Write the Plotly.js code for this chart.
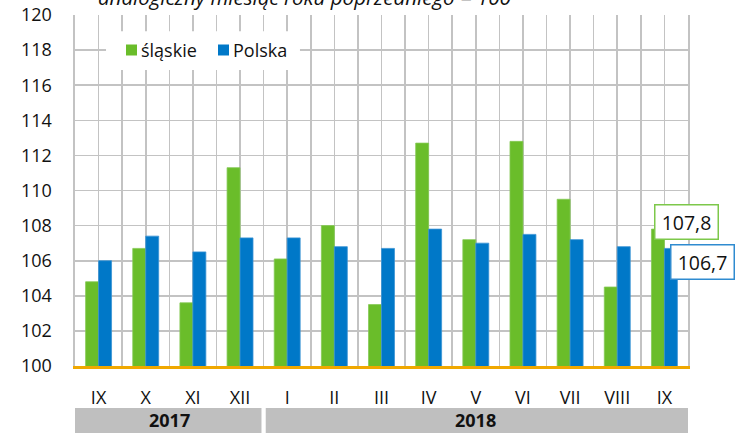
<!DOCTYPE html>
<html>
<head>
<meta charset="utf-8">
<script src="https://cdn.plot.ly/plotly-3.0.1.min.js"></script>
<style>
html,body{margin:0;padding:0;background:#fff;}
#chart{width:744px;height:433px;}
</style>
</head>
<body>
<div id="chart"></div>
<script>
const months = ['IX','X','XI','XII','I','II','III','IV','V','VI','VII','VIII','IX'];
const slaskie = [104.8,106.7,103.6,111.3,106.1,108.0,103.5,112.7,107.2,112.8,109.5,104.5,107.8];
const polska  = [106.0,107.4,106.5,107.3,107.3,106.8,106.7,107.8,107.0,107.5,107.2,106.8,106.7];
const years = ['2017','2018'];
const monthsPerYear = [4, 9];
const yTicks = [100,102,104,106,108,110,112,114,116,118,120];
const seriesNames = ['śląskie','Polska'];
const titleText = 'analogiczny miesiąc roku poprzedniego = 100';

const GREEN = '#6abd2a';
const BLUE = '#0078c8';
const GRID = '#c3c3c3';
const FONT = '"Open Sans", Roboto, sans-serif';

const xIdx = months.map((m, i) => i);
const boundaries = months.map((m, i) => i - 0.5).concat([months.length - 0.5]);
const fmt = v => v.toFixed(1).replace('.', ',');

const traces = [
  {type:'bar', name:seriesNames[0], x:xIdx, y:slaskie, marker:{color:GREEN, line:{color:'#85c955', width:0.8}}, hoverinfo:'y'},
  {type:'bar', name:seriesNames[1], x:xIdx, y:polska, marker:{color:BLUE, line:{color:'#3a93d4', width:0.8}}, hoverinfo:'y'}
];

const shapes = [];
const annotations = [];

// year band
let start = -0.5;
years.forEach((yr, k) => {
  const end = start + monthsPerYear[k];
  const isLast = k === years.length - 1;
  shapes.push({type:'rect', xref:'x', yref:'paper', layer:'below',
    x0: start + (k === 0 ? 0 : 0.045), x1: end - (isLast ? -0.1 : 0.045),
    y0:-0.191, y1:-0.1197, fillcolor:'#bfbfbf', line:{width:0}});
  annotations.push({xref:'x', yref:'paper', x:(start + end) / 2, y:-0.155, text:'<b>' + yr + '</b>',
    showarrow:false, font:{family:FONT, size:18, color:'#111'}, xanchor:'center', yanchor:'middle'});
  start = end;
});

// manual legend
shapes.push({type:'rect', xref:'paper', yref:'paper', layer:'above', x0:0.0506, x1:0.367, y0:0.843, y1:0.954, fillcolor:'#ffffff', line:{width:0}});
shapes.push({type:'rect', xref:'paper', yref:'paper', layer:'above', x0:(126-75)/613, x1:(137-75)/613, y0:(366-55.5)/351, y1:(366-44.5)/351, fillcolor:GREEN, line:{width:0}});
shapes.push({type:'rect', xref:'paper', yref:'paper', layer:'above', x0:(218-75)/613, x1:(229-75)/613, y0:(366-55.5)/351, y1:(366-44.5)/351, fillcolor:BLUE, line:{width:0}});
annotations.push({xref:'paper', yref:'paper', x:(139-75)/613, y:(366-50)/351, text:seriesNames[0], showarrow:false, xanchor:'left', yanchor:'middle', font:{family:FONT, size:18, color:'#111'}});
annotations.push({xref:'paper', yref:'paper', x:(231-75)/613, y:(366-50)/351, text:seriesNames[1], showarrow:false, xanchor:'left', yanchor:'middle', font:{family:FONT, size:18, color:'#111'}});

// title (partly cut off at top)
annotations.push({xref:'paper', yref:'paper', x:0.3736, y:1 + 18/351, text:'<i>' + titleText + '</i>', showarrow:false, xanchor:'center', yanchor:'middle', font:{family:FONT, size:20.5, color:'#111'}});

// value labels for last month
const last = months.length - 1;
annotations.push({xref:'x', yref:'y', x:xIdx[last], y:slaskie[last], text:fmt(slaskie[last]), showarrow:false,
  xanchor:'left', yanchor:'middle', xshift:-10, yshift:7, bgcolor:'#fff', bordercolor:'#7dc84a', borderwidth:1.5, borderpad:4, width:54, height:25,
  font:{family:FONT, size:19.5, color:'#111'}});
annotations.push({xref:'x', yref:'y', x:xIdx[last], y:polska[last], text:fmt(polska[last]), showarrow:false,
  xanchor:'left', yanchor:'middle', xshift:6, yshift:-13.6, bgcolor:'#fff', bordercolor:'#2f8bd0', borderwidth:1.5, borderpad:4, width:54, height:25,
  font:{family:FONT, size:19.5, color:'#111'}});

const layout = {
  width:744, height:433,
  margin:{l:75, r:56, t:15, b:67, pad:0},
  paper_bgcolor:'#fff', plot_bgcolor:'#fff',
  showlegend:false,
  barmode:'group', bargap:0.45, bargroupgap:0,
  font:{family:FONT, size:18, color:'#111'},
  xaxis:{type:'linear', range:[-0.5, months.length - 0.5], tickmode:'array', tickvals:xIdx, ticktext:months,
    showgrid:true, gridcolor:GRID, gridwidth:1.6, zeroline:false, ticks:'', ticklabelstandoff:13,
    minor:{tickmode:'array', tickvals:boundaries, showgrid:true, gridcolor:GRID, gridwidth:1.6, ticks:''},
    showline:true, linecolor:'#f0a800', linewidth:3, tickfont:{family:FONT, size:18, color:'#111'}, fixedrange:true},
  yaxis:{range:[100,120], tickmode:'array', tickvals:yTicks, showgrid:true, gridcolor:GRID, gridwidth:1.6,
    zeroline:false, ticks:'', ticklabelstandoff:18, showline:true, mirror:true, linecolor:GRID, linewidth:1.6,
    tickfont:{family:FONT, size:18, color:'#111'}, fixedrange:true},
  shapes:shapes,
  annotations:annotations
};

Plotly.newPlot('chart', traces, layout, {displayModeBar:false, staticPlot:true});
</script>
</body>
</html>
